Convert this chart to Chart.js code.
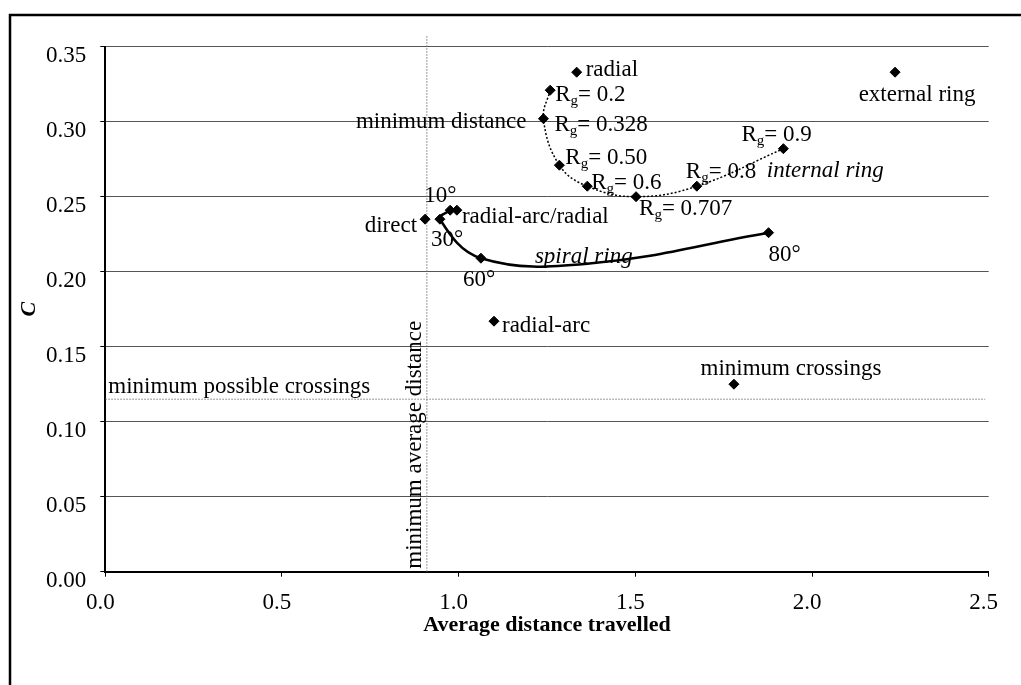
<!DOCTYPE html>
<html>
<head>
<meta charset="utf-8">
<script src="https://cdn.jsdelivr.net/npm/chart.js@4/dist/chart.umd.min.js"></script>
<style>
  html, body { margin: 0; padding: 0; background: #fff; }
  #wrap { width: 1021px; height: 685px; position: relative; }
</style>
</head>
<body>
<div id="wrap"><canvas id="chart"></canvas></div>
<script>
// Internal ring (R_g values)
const ringNames = ['R_g= 0.2', 'R_g= 0.328', 'R_g= 0.50', 'R_g= 0.6', 'R_g= 0.707', 'R_g= 0.8', 'R_g= 0.9'];
const ringDist = [1.259, 1.240, 1.285, 1.364, 1.502, 1.674, 1.919];
const ringC = [0.321, 0.302, 0.271, 0.257, 0.250, 0.257, 0.282];

// Spiral ring (angles); the unnamed point carries the curve, no marker
const spiralNames = ['10°', '30°', '60°', '', '80°'];
const spiralDist = [0.976, 0.947, 1.063, 1.37, 1.877];
const spiralC = [0.241, 0.235, 0.209, 0.2055, 0.226];

// Single layouts
const otherNames = ['radial', 'external ring', 'direct', 'radial-arc/radial', 'radial-arc', 'minimum crossings'];
const otherDist = [1.334, 2.235, 0.905, 0.995, 1.100, 1.779];
const otherC = [0.333, 0.333, 0.235, 0.241, 0.167, 0.125];

// Reference lines
const minAvgDistance = 0.91;
const minAvgLineC = [0, 0.357];
const minPossibleCrossings = 0.115;
const minCrossLineDist = [0, 2.49];

// Axis ticks
const xTicks = [0.0, 0.5, 1.0, 1.5, 2.0, 2.5];
const yTicks = [0.00, 0.05, 0.10, 0.15, 0.20, 0.25, 0.30, 0.35];

const FONT = "'Liberation Serif', 'Times New Roman', serif";

// label placement: [dx, dy, align] relative to the marker
const labelPos = {
    'R_g= 0.2': [5, 11, 'left'],
    'R_g= 0.328': [11, 12, 'left'],
    'R_g= 0.50': [6, -1, 'left'],
    'R_g= 0.6': [4, 3, 'left'],
    'R_g= 0.707': [3, 18, 'left'],
    'R_g= 0.8': [-11, -8, 'left'],
    'R_g= 0.9': [-42, -8, 'left'],
    '10°': [-26, -8, 'left'],
    '30°': [-9, 27, 'left'],
    '60°': [-18, 28, 'left'],
    '80°': [0, 28, 'left'],
    'radial': [9, 4, 'left'],
    'external ring': [22, 29, 'center'],
    'direct': [-8, 13, 'right'],
    'radial-arc/radial': [5, 13, 'left'],
    'radial-arc': [8, 11, 'left'],
    'minimum crossings': [57, -9, 'center']
};

function pts(xs, ys) {
    return xs.map((x, i) => ({ x: x, y: ys[i] }));
}

function drawRich(ctx, text, x, y, align) {
    const font = '23px ' + FONT;
    const subFont = '15px ' + FONT;
    const parts = text.split('_g');
    ctx.font = font;
    if (parts.length === 1) {
        ctx.textAlign = align;
        ctx.fillText(text, x, y);
        return;
    }
    const w1 = ctx.measureText(parts[0]).width;
    const w3 = ctx.measureText(parts[1]).width;
    ctx.font = subFont;
    const w2 = ctx.measureText('g').width;
    const total = w1 + w2 + w3;
    let sx = align === 'left' ? x : (align === 'right' ? x - total : x - total / 2);
    ctx.textAlign = 'left';
    ctx.font = font;
    ctx.fillText(parts[0], sx, y);
    ctx.font = subFont;
    ctx.fillText('g', sx + w1, y + 4);
    ctx.font = font;
    ctx.fillText(parts[1], sx + w1 + w2, y);
}

const labelPlugin = {
    id: 'labels',
    beforeDraw(chart) {
        // frame around the figure (only top and left fall inside the picture)
        const ctx = chart.ctx;
        ctx.save();
        ctx.strokeStyle = '#000';
        ctx.lineWidth = 2.5;
        ctx.beginPath();
        ctx.moveTo(1030, 15);
        ctx.lineTo(10, 15);
        ctx.lineTo(10, 700);
        ctx.stroke();
        ctx.restore();
    },
    afterDatasetsDraw(chart) {
        const ctx = chart.ctx;
        const xs = chart.scales.x, ys = chart.scales.y;
        ctx.save();
        ctx.fillStyle = '#000';
        ctx.textBaseline = 'alphabetic';

        const put = (names, dx, cy) => names.forEach((n, i) => {
            const p = labelPos[n];
            if (!p) return;
            drawRich(ctx, n, xs.getPixelForValue(dx[i]) + p[0], ys.getPixelForValue(cy[i]) + p[1], p[2]);
        });
        put(ringNames, ringDist, ringC);
        put(spiralNames, spiralDist, spiralC);
        put(otherNames, otherDist, otherC);

        // extra annotations
        const md = ringNames.indexOf('R_g= 0.328');
        drawRich(ctx, 'minimum distance', xs.getPixelForValue(ringDist[md]) - 17, ys.getPixelForValue(ringC[md]) + 9, 'right');

        ctx.font = 'italic 23px ' + FONT;
        ctx.textAlign = 'left';
        const r8 = ringNames.indexOf('R_g= 0.8');
        ctx.fillText('internal ring', xs.getPixelForValue(ringDist[r8]) + 70, ys.getPixelForValue(ringC[r8]) - 9);
        const s60 = spiralNames.indexOf('60°');
        ctx.fillText('spiral ring', xs.getPixelForValue(spiralDist[s60]) + 54, ys.getPixelForValue(spiralC[s60]) + 5);

        ctx.font = '23px ' + FONT;
        ctx.fillText('minimum possible crossings', xs.getPixelForValue(minCrossLineDist[0]) + 3, ys.getPixelForValue(minPossibleCrossings) - 6);

        ctx.translate(xs.getPixelForValue(minAvgDistance) - 6, ys.getPixelForValue(0) - 3);
        ctx.rotate(-Math.PI / 2);
        ctx.fillText('minimum average distance', 0, 0);
        ctx.restore();
    }
};

new Chart(document.getElementById('chart'), {
    type: 'scatter',
    data: {
        datasets: [
            {
                data: pts(ringDist, ringC),
                showLine: true,
                tension: 0.4,
                borderColor: '#000',
                borderWidth: 1.5,
                borderDash: [2, 2],
                pointStyle: 'rectRot',
                pointRadius: 5,
                pointBorderWidth: 1,
                pointBackgroundColor: '#000',
                pointBorderColor: '#000'
            },
            {
                data: pts(spiralDist, spiralC),
                showLine: true,
                tension: 0.4,
                borderColor: '#000',
                borderWidth: 2.5,
                pointStyle: 'rectRot',
                pointRadius: spiralNames.map(n => n ? 5 : 0),
                pointBorderWidth: spiralNames.map(n => n ? 1 : 0),
                pointBackgroundColor: '#000',
                pointBorderColor: '#000'
            },
            {
                data: pts(otherDist, otherC),
                pointStyle: 'rectRot',
                pointRadius: 5,
                pointBorderWidth: 1,
                pointBackgroundColor: '#000',
                pointBorderColor: '#000'
            },
            {
                data: minAvgLineC.map(c => ({ x: minAvgDistance, y: c })),
                showLine: true,
                borderColor: '#777',
                borderWidth: 1,
                borderDash: [1.5, 1.5],
                pointRadius: 0,
                clip: false
            },
            {
                data: minCrossLineDist.map(d => ({ x: d, y: minPossibleCrossings })),
                showLine: true,
                borderColor: '#777',
                borderWidth: 1,
                borderDash: [1.5, 1.5],
                pointRadius: 0
            }
        ]
    },
    options: {
        responsive: true,
        maintainAspectRatio: false,
        animation: false,
        layout: { padding: { left: 0, right: 32.3, top: 46.7, bottom: 0 } },
        plugins: {
            legend: { display: false },
            tooltip: { enabled: false }
        },
        scales: {
            x: {
                type: 'linear',
                min: xTicks[0],
                max: xTicks[xTicks.length - 1],
                afterBuildTicks: s => { s.ticks = xTicks.map(v => ({ value: v })); },
                afterFit: s => { s.height = 113.3; },
                grid: { drawOnChartArea: false, drawTicks: true, tickLength: 5, tickColor: '#000', tickWidth: 1 },
                border: { color: '#000', width: 2 },
                ticks: {
                    color: '#000',
                    padding: 12,
                    labelOffset: -5,
                    maxRotation: 0,
                    font: { family: FONT, size: 23 },
                    callback: v => Number(v).toFixed(1)
                },
                title: {
                    display: true,
                    text: 'Average distance travelled',
                    color: '#000',
                    font: { family: FONT, size: 22, weight: 'bold' },
                    padding: { top: 0, bottom: 46 }
                }
            },
            y: {
                type: 'linear',
                min: yTicks[0],
                max: yTicks[yTicks.length - 1],
                afterBuildTicks: s => { s.ticks = yTicks.map(v => ({ value: v })); },
                afterFit: s => { s.width = 105.3; },
                grid: { color: '#555', lineWidth: 1, drawTicks: true, tickLength: 5, tickColor: '#000' },
                border: { color: '#000', width: 2 },
                ticks: {
                    color: '#000',
                    padding: 14,
                    labelOffset: 9,
                    font: { family: FONT, size: 23 },
                    callback: v => Number(v).toFixed(2)
                },
                title: {
                    display: true,
                    text: 'C',
                    color: '#000',
                    font: { family: FONT, size: 22, weight: 'bold', style: 'italic' },
                    padding: { top: 16, bottom: 0 }
                }
            }
        }
    },
    plugins: [labelPlugin]
});
</script>
</body>
</html>
